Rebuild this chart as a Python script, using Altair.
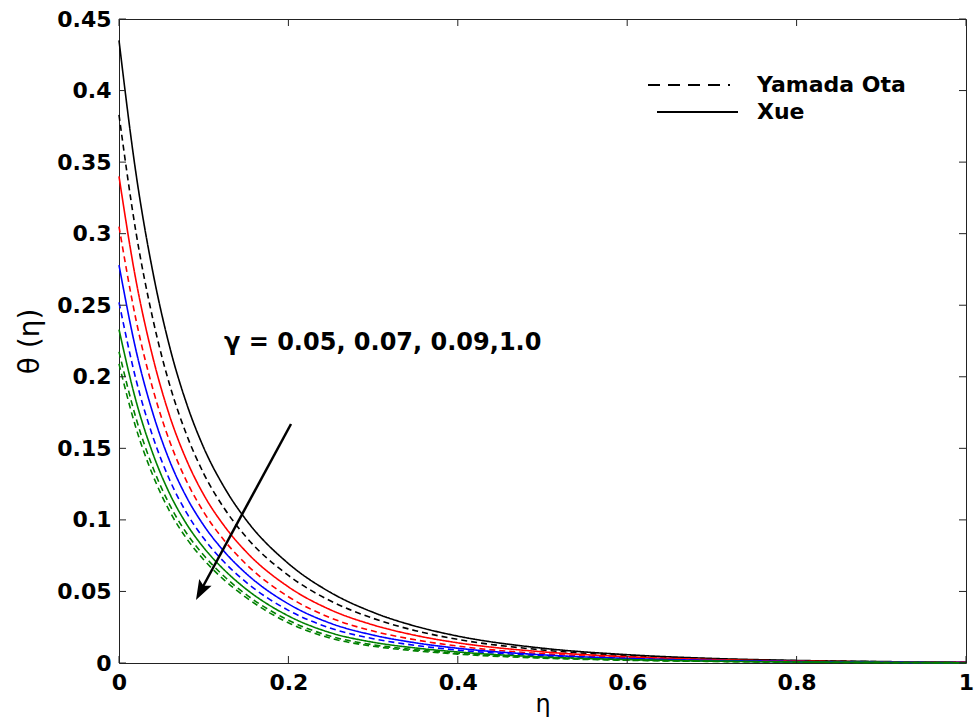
import altair as alt
import pandas as pd

# ---- data ----
eta = [0, 0.02, 0.04, 0.06, 0.08, 0.1, 0.125, 0.15, 0.2, 0.25, 0.3, 0.35, 0.4,
       0.5, 0.6, 0.7, 0.8, 0.9, 1.0]

xue_black = [0.435, 0.3423, 0.2731, 0.2205, 0.1809, 0.1505, 0.1220, 0.1001, 0.0695, 0.0492,
             0.0354, 0.0257, 0.0188, 0.01035, 0.0058, 0.0032, 0.0018, 0.001, 0.0005]
ota_black = [0.383, 0.3012, 0.2403, 0.1940, 0.1592, 0.1324, 0.1074, 0.0881, 0.0612, 0.0433,
             0.0312, 0.0226, 0.0165, 0.0091, 0.0051, 0.0028, 0.0016, 0.0009, 0.0004]
xue_red = [0.340, 0.2675, 0.2135, 0.1723, 0.1414, 0.1176, 0.0952, 0.0778, 0.0532, 0.0371,
           0.0266, 0.0193, 0.0141, 0.0078, 0.0044, 0.0024, 0.00135, 0.00075, 0.0004]
ota_red = [0.305, 0.240, 0.1915, 0.1546, 0.1268, 0.1055, 0.0851, 0.0691, 0.0463, 0.0315,
           0.0223, 0.0162, 0.0118, 0.0065, 0.0037, 0.0020, 0.0011, 0.0006, 0.0003]
xue_blue = [0.278, 0.2187, 0.1745, 0.1409, 0.1156, 0.0962, 0.0774, 0.0626, 0.0413, 0.0277,
            0.0195, 0.0141, 0.0103, 0.0057, 0.0032, 0.0018, 0.001, 0.00055, 0.0003]
ota_blue = [0.252, 0.1982, 0.1581, 0.1277, 0.1047, 0.0871, 0.0700, 0.0565, 0.0368, 0.0243,
            0.0170, 0.0123, 0.0090, 0.0050, 0.0028, 0.0015, 0.0009, 0.0005, 0.0002]
xue_green = [0.233, 0.1833, 0.1463, 0.1181, 0.0969, 0.0806, 0.0646, 0.0517, 0.0329, 0.0211,
             0.0145, 0.0105, 0.0077, 0.0042, 0.0024, 0.0013, 0.0007, 0.0004, 0.0002]
ota_green = [0.2175, 0.1712, 0.1366, 0.1103, 0.0905, 0.0753, 0.0601, 0.0479, 0.0299, 0.0187,
             0.0127, 0.0093, 0.0068, 0.0037, 0.0021, 0.0012, 0.0006, 0.0004, 0.0002]
ota_green2 = [0.209, 0.1643, 0.1311, 0.1058, 0.0868, 0.0722, 0.0576, 0.0458, 0.0281, 0.0173,
              0.0117, 0.0085, 0.0062, 0.0034, 0.0019, 0.0011, 0.0006, 0.0003, 0.0002]

series = [
    ("xb", "g1", "Xue", xue_black),
    ("ob", "g1", "Yamada Ota", ota_black),
    ("xr", "g2", "Xue", xue_red),
    ("or", "g2", "Yamada Ota", ota_red),
    ("xu", "g3", "Xue", xue_blue),
    ("ou", "g3", "Yamada Ota", ota_blue),
    ("xg", "g4", "Xue", xue_green),
    ("og", "g4", "Yamada Ota", ota_green),
    ("og2", "g4", "Yamada Ota", ota_green2),
]

x_ticks = [0, 0.2, 0.4, 0.6, 0.8, 1.0]
y_ticks = [0, 0.05, 0.1, 0.15, 0.2, 0.25, 0.3, 0.35, 0.4, 0.45]

rows = []
for name, grp, model, vals in series:
    for e, v in zip(eta, vals):
        rows.append({"eta": e, "theta": v, "series": name, "gamma": grp, "model": model})
df = pd.DataFrame(rows)

W, H = 847, 644
FONT = "DejaVu Sans"

xs = alt.Scale(domain=[0, 1], nice=False)
ys = alt.Scale(domain=[0, 0.45], nice=False)
x_axis = alt.Axis(values=x_ticks, format="~g", title="η", ticks=False, grid=False,
                  domain=False, labelPadding=9, titlePadding=-1, labelFlush=False)
y_axis = alt.Axis(values=y_ticks, format=".2~f", title="θ (η)", ticks=False, grid=False,
                  domain=False, labelPadding=8, titlePadding=12, labelFlush=False,
                  titleFontSize=28)

lines = alt.Chart(df).mark_line(strokeWidth=1.6, interpolate="monotone").encode(
    x=alt.X("eta:Q", scale=xs, axis=x_axis),
    y=alt.Y("theta:Q", scale=ys, axis=y_axis),
    color=alt.Color("gamma:N",
                    scale=alt.Scale(domain=["g1", "g2", "g3", "g4"],
                                    range=["#000000", "#ff0000", "#0000ff", "#008000"]),
                    legend=None),
    strokeDash=alt.StrokeDash("model:N",
                              scale=alt.Scale(domain=["Yamada Ota", "Xue"],
                                              range=[[6, 4], [1, 0]]),
                              legend=None),
    detail="series:N",
)

xt = pd.DataFrame({"eta": x_ticks})
yt = pd.DataFrame({"theta": y_ticks})
TL = 7
tick_bottom = alt.Chart(xt).mark_rule(color="#222", strokeWidth=1).encode(
    x=alt.X("eta:Q", scale=xs, axis=x_axis), y=alt.value(H), y2=alt.value(H - TL))
tick_top = alt.Chart(xt).mark_rule(color="#222", strokeWidth=1).encode(
    x=alt.X("eta:Q", scale=xs, axis=x_axis), y=alt.value(0), y2=alt.value(TL))
tick_left = alt.Chart(yt).mark_rule(color="#222", strokeWidth=1).encode(
    y=alt.Y("theta:Q", scale=ys, axis=y_axis), x=alt.value(0), x2=alt.value(TL))
tick_right = alt.Chart(yt).mark_rule(color="#222", strokeWidth=1).encode(
    y=alt.Y("theta:Q", scale=ys, axis=y_axis), x=alt.value(W), x2=alt.value(W - TL))

one = pd.DataFrame({"k": [0]})

# legend (custom)
leg_dash = alt.Chart(one).mark_rule(color="black", strokeWidth=2, strokeDash=[12, 8]).encode(
    x=alt.value(529), x2=alt.value(611), y=alt.value(66))
leg_solid = alt.Chart(one).mark_rule(color="black", strokeWidth=2).encode(
    x=alt.value(538), x2=alt.value(619), y=alt.value(93))
leg_t1 = alt.Chart(one).mark_text(text="Yamada Ota", font=FONT, fontWeight="bold",
                                  fontSize=22, align="left", baseline="middle").encode(
    x=alt.value(638), y=alt.value(66))
leg_t2 = alt.Chart(one).mark_text(text="Xue", font=FONT, fontWeight="bold",
                                  fontSize=22, align="left", baseline="middle").encode(
    x=alt.value(638), y=alt.value(93))

# annotation
ann = alt.Chart(one).mark_text(text="γ = 0.05, 0.07, 0.09,1.0", font=FONT,
                               fontWeight="bold", fontSize=24, align="left",
                               baseline="middle").encode(
    x=alt.value(105), y=alt.value(324))
arrow_line = alt.Chart(one).mark_rule(color="black", strokeWidth=2.5).encode(
    x=alt.value(172), y=alt.value(405), x2=alt.value(81), y2=alt.value(573))
arrow_head = alt.Chart(one).mark_point(
    shape="M0,0 L0.7,2 L0,1.6 L-0.7,2 Z", angle=208, size=400, filled=True,
    color="black", opacity=1, strokeWidth=0).encode(
    x=alt.value(77), y=alt.value(581))

chart = alt.layer(
    lines, tick_bottom, tick_top, tick_left, tick_right,
    leg_dash, leg_solid, leg_t1, leg_t2, ann, arrow_line, arrow_head
).properties(
    width=W, height=H,
    autosize=alt.AutoSizeParams(type="none"),
    padding={"left": 119, "top": 19, "right": 11, "bottom": 61},
    background="white",
).configure_view(
    stroke="#222", strokeWidth=1
).configure_axis(
    labelFont=FONT, labelFontWeight="bold", labelFontSize=22, labelColor="black",
    titleFont=FONT, titleFontWeight="normal", titleFontSize=24, titleColor="black",
)

chart.save("out.html", embed_options={"renderer": "svg", "actions": False})
